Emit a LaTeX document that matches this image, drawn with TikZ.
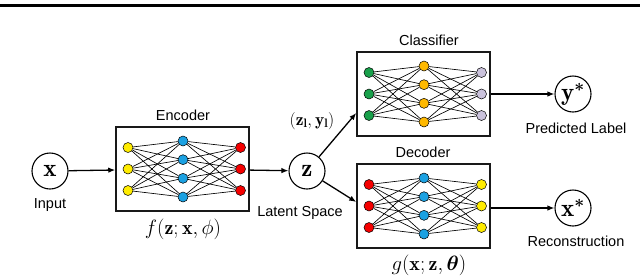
\documentclass[tikz,border=0pt]{standalone}
\usepackage{fontspec}
\usepackage{amsmath,amssymb,bm}
\newfontfamily\labfont{Liberation Sans}
\usetikzlibrary{arrows.meta,calc,backgrounds}
\definecolor{nyellow}{RGB}{255,236,0}
\definecolor{ncyan}{RGB}{27,161,226}
\definecolor{nred}{RGB}{245,0,0}
\definecolor{ngreen}{RGB}{25,160,75}
\definecolor{norange}{RGB}{255,185,0}
\definecolor{nlav}{RGB}{202,194,220}
\newcommand\mynet[6]{%
  \node[netbox] (#1box) at (#2+66.5,#3+42) {};
  \foreach \i/\dy in {1/-21.5,2/0,3/21.5}
    \node[neuron,fill=#4] (#1a\i) at (#2+12,#3+42+\dy) {};
  \foreach \j/\dy in {1/-28,2/-9.33,3/9.33,4/28}
    \node[neuron,fill=#5] (#1b\j) at (#2+67,#3+42+\dy) {};
  \foreach \k/\dy in {1/-21.5,2/0,3/21.5}
    \node[neuron,fill=#6] (#1c\k) at (#2+124.5,#3+42+\dy) {};
  \begin{scope}[on background layer]
    \foreach \i in {1,2,3}
      \foreach \j in {1,2,3,4}
        \draw[nnedge] (#1a\i) -- (#1b\j);
    \foreach \j in {1,2,3,4}
      \foreach \k in {1,2,3}
        \draw[nnedge] (#1b\j) -- (#1c\k);
  \end{scope}
}
\begin{document}
\begin{tikzpicture}[x=1pt,y=-1pt,
  netbox/.style={draw=black!90,line width=1.5pt,minimum width=133pt,minimum height=84pt,inner sep=0pt},
  neuron/.style={circle,draw=black,line width=0.5pt,minimum size=10pt,inner sep=0pt},
  nnedge/.style={line width=0.65pt,black},
  varnode/.style={circle,draw=black,line width=1.1pt,minimum size=36pt,inner sep=0pt,font=\fontsize{25}{27}\selectfont},
  lab/.style={font=\labfont\fontsize{14.5}{16}\selectfont,anchor=base,inner sep=0pt},
  mlab/.style={font=\fontsize{20}{24}\selectfont,inner sep=0pt},
  arr/.style={line width=1.3pt,-{Latex[length=7pt,width=5.5pt]}}]
\useasboundingbox (0,0) rectangle (640,277);
\draw[line width=3pt] (0,5.5) -- (640,5.5);
% variables
\node[varnode] (x) at (50,171) {$\mathbf{x}$};
\node[varnode] (z) at (307,171) {$\mathbf{z}$};
\node[varnode] (ys) at (573,94) {$\mathbf{y}^{\boldsymbol{*}}$};
\node[varnode] (xs) at (573,208) {$\mathbf{x}^{\boldsymbol{*}}$};
% networks
\mynet{e}{116}{127}{nyellow}{ncyan}{nred}
\mynet{c}{357}{52}{ngreen}{norange}{nlav}
\mynet{d}{357}{164}{nred}{ncyan}{nyellow}
% labels
\node[lab] (tin) at (50,208) {Input};
\node[lab] (tenc) at (183,120) {Encoder};
\node[lab] (tlat) at (300,216) {Latent Space};
\node[lab] (tcls) at (429,45) {Classifier};
\node[lab] (tdec) at (423,157.5) {Decoder};
\node[lab] (tpred) at (576,133) {Predicted Label};
\node[lab] (trec) at (576,246) {Reconstruction};
\node[mlab] (fenc) at (183,229) {$f(\mathbf{z};\mathbf{x},\phi)$};
\node[mlab] (gdec) at (429,265) {$g(\mathbf{x};\mathbf{z},\boldsymbol{\theta})$};
\node[mlab,font=\fontsize{17.5}{20}\selectfont] (zl) at (312,121) {$(\mathbf{z}_{\mathbf{l}},\mathbf{y}_{\mathbf{l}})$};
% connectors
\draw[arr] (x) -- (ebox);
\draw[arr] (ebox) -- (z);
\draw[arr] (z) -- ($(cbox.west)+(0,19)$);
\draw[arr] (z) -- ($(dbox.west)+(0,-4)$);
\draw[arr] (cbox.east |- ys) -- (ys);
\draw[arr] (dbox.east |- xs) -- (xs);
\end{tikzpicture}
\end{document}
